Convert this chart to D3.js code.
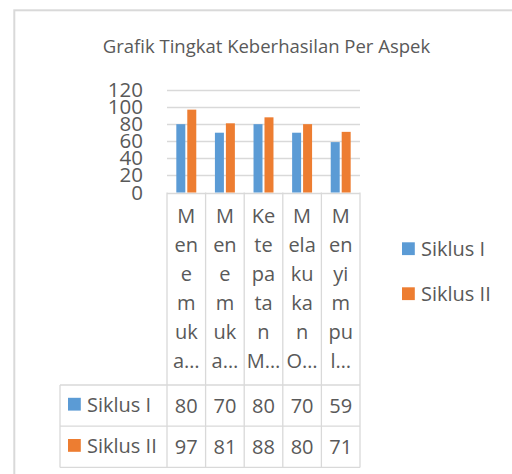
<!DOCTYPE html>
<html>
<head>
<meta charset="utf-8">
<script src="https://cdn.jsdelivr.net/npm/d3@7"></script>
<style>
  html, body { margin: 0; padding: 0; background: #fff; }
  svg { display: block; }
  text { font-family: "Open Sans", sans-serif; fill: #595959; }
</style>
</head>
<body>
<svg id="chart" width="512" height="474"></svg>
<script>
// ---- data ----
const title = "Grafik Tingkat Keberhasilan Per Aspek";
const categories = ["Menemukan…", "Menemukan a…", "Ketepatan M…", "Melakukan O…", "Menyimpul…"];
const categoryLines = [
  ["M", "en", "e", "m", "uk", "a…"],
  ["M", "en", "e", "m", "uk", "a…"],
  ["Ke", "te", "pa", "ta", "n", "M…"],
  ["M", "ela", "ku", "ka", "n", "O…"],
  ["M", "en", "yi", "m", "pu", "l…"]
];
const seriesNames = ["Siklus I", "Siklus II"];
const siklusI = [80, 70, 80, 70, 59];
const siklusII = [97, 81, 88, 80, 71];
const seriesColors = ["#5b9bd5", "#ed7d31"];
const yTicks = [0, 20, 40, 60, 80, 100, 120];

const seriesValues = [siklusI, siklusII];

// ---- layout ----
const svg = d3.select("#chart");
const plotLeft = 167, plotRight = 360;
const yZero = 192.5, yTop = 90;
const tableTop = 385, rowH = 41.2, tableLeft = 60;
const gridColor = "#d9d9d9";

// frame
svg.append("rect")
  .attr("x", 14.3).attr("y", 10.3)
  .attr("width", 700).attr("height", 700)
  .attr("fill", "#fff")
  .attr("stroke", gridColor).attr("stroke-width", 2);

// title
svg.append("text")
  .attr("x", 266.5).attr("y", 52.5)
  .attr("text-anchor", "middle")
  .style("font-size", "18.5px")
  .text(title);

const y = d3.scaleLinear().domain([0, 120]).range([yZero, yTop]);
const x = d3.scaleBand().domain(categories).range([plotLeft, plotRight]).paddingInner(0).paddingOuter(0);
const xs = d3.scaleBand().domain(seriesNames).range([0, x.bandwidth()])
  .paddingInner(0.18).paddingOuter(0.85);

// gridlines
svg.append("g").selectAll("line").data(yTicks).join("line")
  .attr("x1", plotLeft).attr("x2", plotRight)
  .attr("y1", d => Math.round(y(d)) + 0.5).attr("y2", d => Math.round(y(d)) + 0.5)
  .attr("stroke", gridColor).attr("stroke-width", 1.3);

// y axis labels
const yAxis = svg.append("g")
  .attr("transform", `translate(${plotLeft},0)`)
  .call(d3.axisLeft(y).tickValues(yTicks).tickSize(0).tickPadding(24));
yAxis.select(".domain").remove();
yAxis.selectAll("text")
  .style("font-size", "20.5px")
  .style("font-family", "'Open Sans', sans-serif")
  .attr("fill", "#595959");

// bars
const groups = svg.append("g").selectAll("g").data(categories).join("g")
  .attr("transform", d => `translate(${x(d)},0)`);
groups.selectAll("rect")
  .data((d, i) => seriesNames.map((s, j) => ({ s, v: seriesValues[j][i], j })))
  .join("rect")
  .attr("x", d => xs(d.s))
  .attr("width", xs.bandwidth())
  .attr("y", d => y(d.v))
  .attr("height", d => y(0) - y(d.v))
  .attr("fill", d => seriesColors[d.j]);

// category label column lines
const tableBottom = tableTop + rowH * 2;
const vBounds = categories.map(c => x(c)).concat([plotRight]);
svg.append("g").selectAll("line").data(vBounds).join("line")
  .attr("x1", d => d).attr("x2", d => d)
  .attr("y1", yZero).attr("y2", tableBottom)
  .attr("stroke", gridColor).attr("stroke-width", 1.3);

// category labels (wrapped)
categories.forEach((c, i) => {
  const t = svg.append("g");
  categoryLines[i].forEach((ln, k) => {
    t.append("text")
      .attr("x", x(c) + x.bandwidth() / 2)
      .attr("y", 222.7 + k * 29.1)
      .attr("text-anchor", "middle")
      .style("font-size", "20px")
      .text(ln);
  });
});

// data table
const rowsY = [tableTop, tableTop + rowH, tableTop + 2 * rowH];
svg.append("g").selectAll("line").data(rowsY).join("line")
  .attr("x1", tableLeft).attr("x2", plotRight)
  .attr("y1", d => d).attr("y2", d => d)
  .attr("stroke", gridColor).attr("stroke-width", 1.3);
svg.append("line")
  .attr("x1", tableLeft).attr("x2", tableLeft)
  .attr("y1", tableTop).attr("y2", tableBottom)
  .attr("stroke", gridColor).attr("stroke-width", 1.3);

seriesNames.forEach((s, j) => {
  const cy = tableTop + rowH * j + rowH / 2;
  svg.append("rect")
    .attr("x", 68).attr("y", cy - 6.8 - 1)
    .attr("width", 12.8).attr("height", 12.8)
    .attr("fill", seriesColors[j]);
  svg.append("text")
    .attr("x", 87).attr("y", cy - 1)
    .attr("dy", "0.35em")
    .style("font-size", "20px")
    .text(s);
  categories.forEach((c, i) => {
    svg.append("text")
      .attr("x", x(c) + x.bandwidth() / 2)
      .attr("y", cy)
      .attr("dy", "0.35em")
      .attr("text-anchor", "middle")
      .style("font-size", "20px")
      .text(seriesValues[j][i]);
  });
});

// legend
const legendY = [248.7, 293.7];
seriesNames.forEach((s, j) => {
  svg.append("rect")
    .attr("x", 402).attr("y", legendY[j] - 6.4)
    .attr("width", 12.8).attr("height", 12.8)
    .attr("fill", seriesColors[j]);
  svg.append("text")
    .attr("x", 421).attr("y", legendY[j])
    .attr("dy", "0.35em")
    .style("font-size", "20px")
    .text(s);
});
</script>
</body>
</html>
